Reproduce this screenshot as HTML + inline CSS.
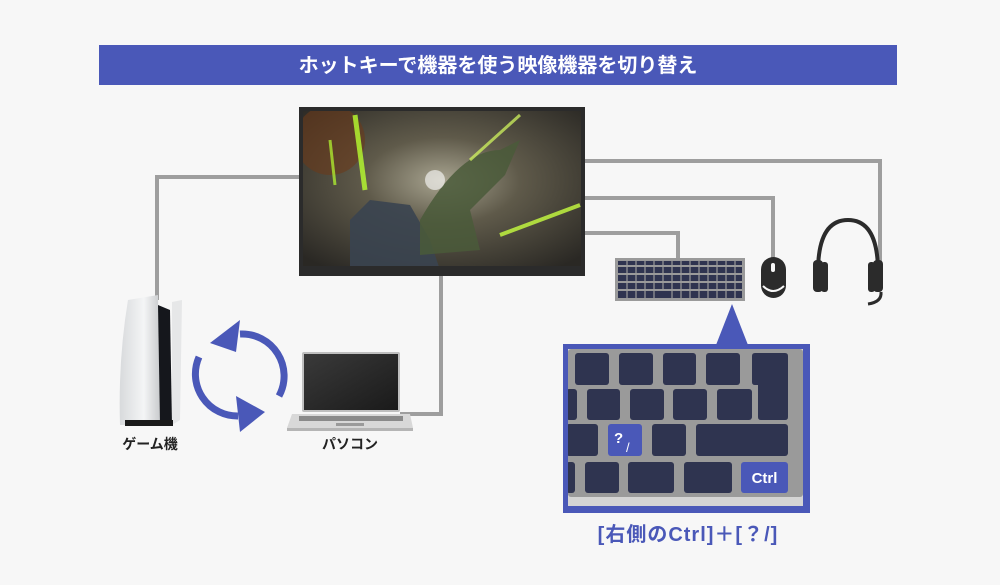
<!DOCTYPE html>
<html><head><meta charset="utf-8"><style>
html,body{margin:0;padding:0;background:#f7f7f7;}
svg{display:block;}
text{font-family:"Liberation Sans","Noto Sans CJK JP",sans-serif;}
</style></head><body>
<svg width="1000" height="585" viewBox="0 0 1000 585" xmlns="http://www.w3.org/2000/svg">
<defs>
<radialGradient id="scr" cx="0.5" cy="0.45" r="0.7">
<stop offset="0" stop-color="#a8a490"/><stop offset="0.4" stop-color="#5f5a4a"/><stop offset="1" stop-color="#2a2824"/>
</radialGradient>
<linearGradient id="ps" x1="0" x2="1"><stop offset="0" stop-color="#d8dadc"/><stop offset="0.6" stop-color="#f4f5f6"/><stop offset="1" stop-color="#c9cbcd"/></linearGradient>
<linearGradient id="lap" x1="0" y1="0" x2="1" y2="1"><stop offset="0" stop-color="#3a3a3a"/><stop offset="1" stop-color="#1a1a1a"/></linearGradient>
<clipPath id="sc"><rect x="303" y="111" width="278" height="155"/></clipPath>
</defs>
<rect width="1000" height="585" fill="#f7f7f7"/>
<rect x="99" y="45" width="798" height="40" fill="#4a58b8"/>
<text x="498" y="72" font-size="20" font-weight="bold" fill="#fff" text-anchor="middle">ホットキーで機器を使う映像機器を切り替え</text>
<g fill="none" stroke="#9e9e9e" stroke-width="4">
<polyline points="301,177 157,177 157,300"/>
<polyline points="582,161 880,161 880,265"/>
<polyline points="582,198 773,198 773,258"/>
<polyline points="582,233 678,233 678,260"/>
<polyline points="441,274 441,414 400,414"/>
</g>
<rect x="299" y="107" width="286" height="169" fill="#2b2b2b"/>
<rect x="303" y="111" width="278" height="155" fill="url(#scr)"/>
<g clip-path="url(#sc)">
<circle cx="330" cy="140" r="35" fill="#6a3a1a" opacity="0.6"/>
<path d="M350 280 L350 220 L370 200 L410 205 L430 240 L440 270 Z" fill="#3a4450" opacity="0.9"/>
<path d="M420 220 Q460 150 500 150 L520 140 L505 175 L470 210 L480 250 L420 255 Z" fill="#4a5a3a" opacity="0.85"/>
<path d="M355 115 L365 190" stroke="#b8ff30" stroke-width="5" opacity="0.8"/>
<path d="M330 140 L335 185" stroke="#b8ff30" stroke-width="3" opacity="0.7"/>
<path d="M500 235 L580 205" stroke="#c8ff40" stroke-width="4" opacity="0.8"/>
<path d="M470 160 L520 115" stroke="#d8ff60" stroke-width="3" opacity="0.7"/>
<circle cx="435" cy="180" r="10" fill="#fff" opacity="0.6"/>
</g>
<rect x="615" y="258" width="130" height="43" fill="#9a9a9a"/>
<g fill="#2f3450">
<rect x="618" y="261" width="124" height="4"/>
<rect x="618" y="267" width="124" height="6"/>
<rect x="618" y="275" width="124" height="6"/>
<rect x="618" y="283" width="124" height="6"/>
<rect x="618" y="291" width="124" height="7"/>
</g>
<g stroke="#9a9a9a" stroke-width="1.2">
<path d="M627 261V298M636 261V298M645 261V298M654 261V298M663 261V290M672 261V298M681 261V298M690 261V298M699 261V298M708 261V298M717 261V298M726 261V298M735 261V298"/>
</g>
<rect x="761" y="257" width="25" height="41" rx="12.5" fill="#2b2b2b"/>
<path d="M763 286 Q773 296 784 286" stroke="#f7f7f7" stroke-width="2" fill="none"/>
<rect x="771" y="263" width="4" height="9" rx="2" fill="#f7f7f7"/>
<path d="M818 272 Q818 220 848 220 Q878 220 878 272" stroke="#2b2b2b" stroke-width="4" fill="none"/>
<rect x="813" y="260" width="10" height="32" rx="4" fill="#2b2b2b"/>
<rect x="821" y="262" width="7" height="30" rx="3" fill="#2b2b2b"/>
<rect x="868" y="262" width="7" height="30" rx="3" fill="#2b2b2b"/>
<rect x="873" y="260" width="10" height="32" rx="4" fill="#2b2b2b"/>
<path d="M881 292 Q882 302 868 304" stroke="#2b2b2b" stroke-width="3" fill="none"/>
<polygon points="732,304 716,345 748,345" fill="#4a58b8"/>
<rect x="563" y="344" width="247" height="169" fill="#4a58b8"/>
<rect x="568" y="349" width="235" height="157" fill="#d4d4d4"/>
<rect x="568" y="349" width="235" height="148" rx="3" fill="#9a9a9a"/>
<g fill="#2f3450">
<rect x="575" y="353" width="34" height="32" rx="3"/>
<rect x="619" y="353" width="34" height="32" rx="3"/>
<rect x="663" y="353" width="33" height="32" rx="3"/>
<rect x="706" y="353" width="34" height="32" rx="3"/>
<path d="M755 353H785Q788 353 788 356V417Q788 420 785 420H761Q758 420 758 417V385H755Q752 385 752 382V356Q752 353 755 353Z"/>
<rect x="566" y="389" width="11" height="31" rx="3"/>
<rect x="587" y="389" width="33" height="31" rx="3"/>
<rect x="630" y="389" width="34" height="31" rx="3"/>
<rect x="673" y="389" width="34" height="31" rx="3"/>
<rect x="717" y="389" width="35" height="31" rx="3"/>
<rect x="566" y="424" width="32" height="32" rx="3"/>
<rect x="652" y="424" width="34" height="32" rx="3"/>
<rect x="696" y="424" width="92" height="32" rx="3"/>
<rect x="566" y="462" width="9" height="31" rx="3"/>
<rect x="585" y="462" width="34" height="31" rx="3"/>
<rect x="628" y="462" width="46" height="31" rx="3"/>
<rect x="684" y="462" width="48" height="31" rx="3"/>
</g>
<rect x="563" y="344" width="5" height="169" fill="#4a58b8"/>
<rect x="608" y="424" width="34" height="32" rx="3" fill="#4a58b8"/>
<text x="614" y="443" font-size="15" font-weight="bold" fill="#fff">?</text>
<text x="626" y="452" font-size="13" fill="#fff">/</text>
<rect x="741" y="462" width="47" height="31" rx="3" fill="#4a58b8"/>
<text x="764.5" y="483" font-size="15" font-weight="bold" fill="#fff" text-anchor="middle">Ctrl</text>
<text x="688" y="541" font-size="20" font-weight="bold" fill="#4a58b8" text-anchor="middle" letter-spacing="1">[右側のCtrl]＋[？/]</text>
<path d="M128 300 L158 295 L160 425 L120 425 Q118 360 128 300Z" fill="url(#ps)"/>
<path d="M158 305 L170 310 L172 425 L160 425Z" fill="#15171c"/>
<path d="M172 302 L182 300 L180 420 L172 425Z" fill="#e6e7e8"/>
<rect x="125" y="420" width="48" height="6" fill="#1a1a1a"/>
<g fill="none" stroke="#4a58b8" stroke-width="7">
<path d="M279 396 A42 42 0 0 0 240 334"/>
<path d="M199 357 A42 42 0 0 0 238 416"/>
</g>
<polygon points="210,343 240,320 236,352" fill="#4a58b8"/>
<polygon points="265,412 236,396 240,432" fill="#4a58b8"/>
<rect x="302" y="352" width="98" height="60" rx="2" fill="#bfbfbf"/>
<rect x="304" y="354" width="94" height="56" fill="url(#lap)"/>
<path d="M292 414 L410 414 L413 428 L287 428Z" fill="#d8d8d8"/>
<rect x="299" y="416" width="104" height="5" fill="#8a8a8a"/>
<rect x="336" y="423" width="28" height="3" fill="#9a9a9a"/>
<rect x="287" y="428" width="126" height="3" fill="#b5b5b5"/>
<text x="150" y="449" font-size="14" font-weight="bold" fill="#222" text-anchor="middle">ゲーム機</text>
<text x="350" y="449" font-size="14" font-weight="bold" fill="#222" text-anchor="middle">パソコン</text>
</svg>
</body></html>
